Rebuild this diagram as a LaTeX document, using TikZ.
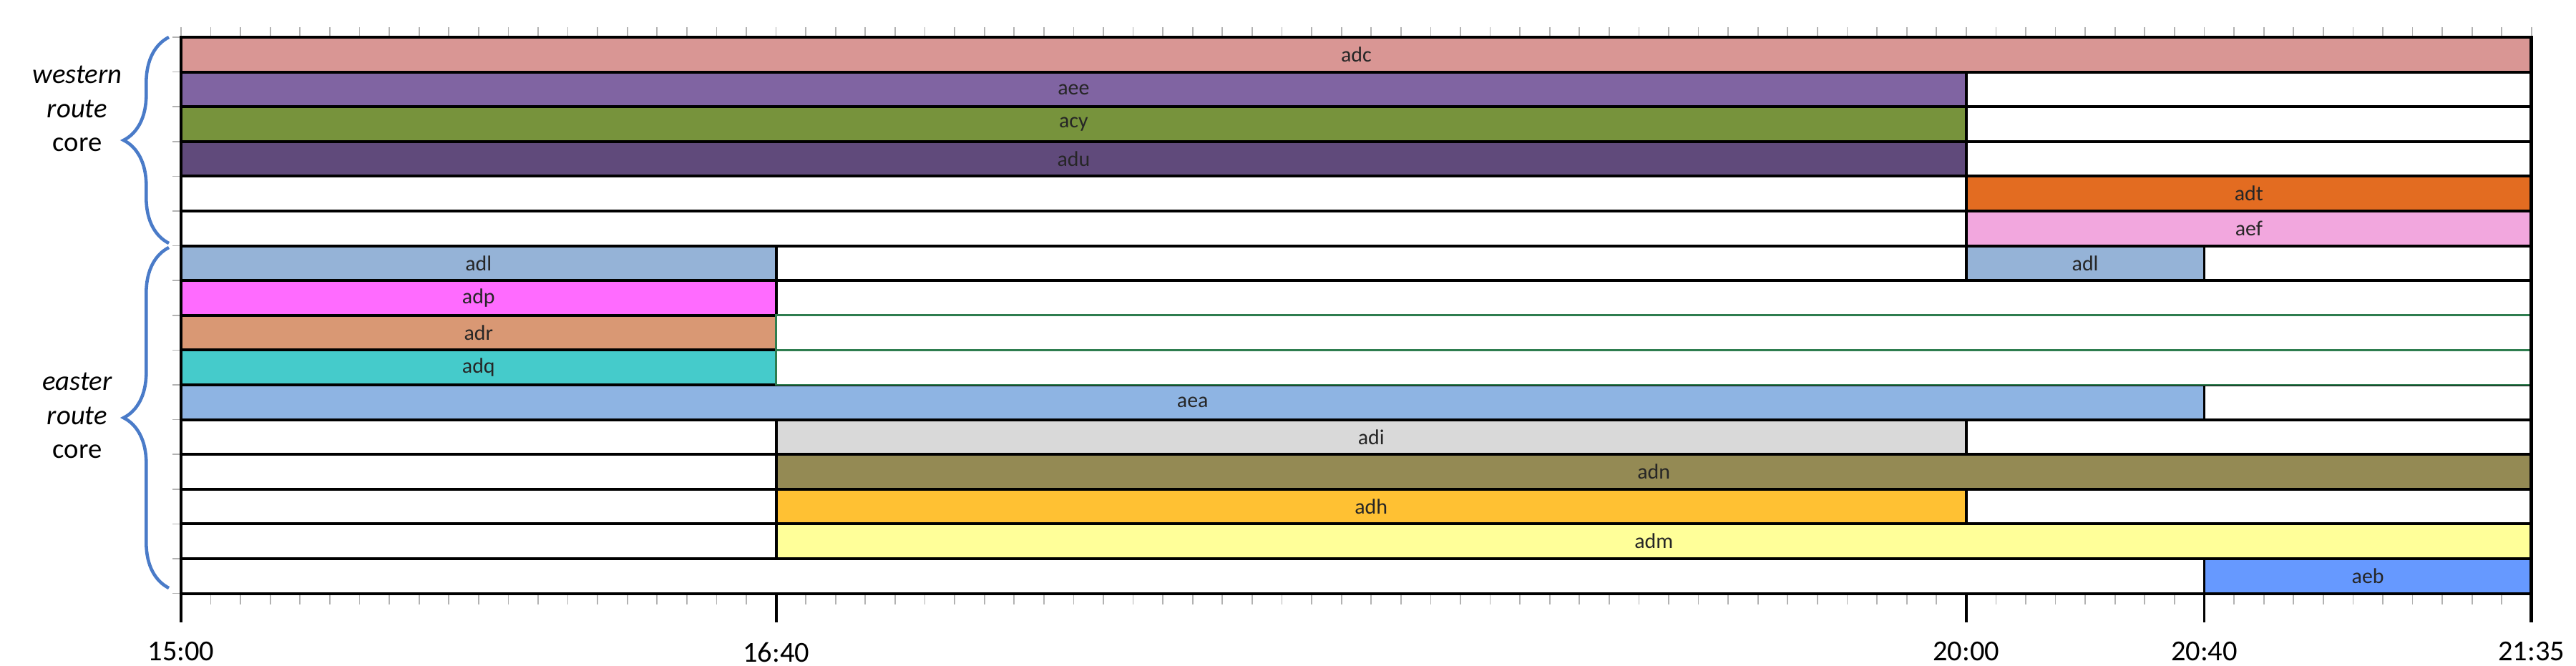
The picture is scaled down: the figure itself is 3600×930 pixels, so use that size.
\documentclass[tikz,border=0pt]{standalone}
\usepackage{fontspec}
\setmainfont{Carlito}
\usetikzlibrary{decorations.pathreplacing}

\definecolor{cadc}{HTML}{D99694}
\definecolor{caee}{HTML}{8064A2}
\definecolor{cacy}{HTML}{77933C}
\definecolor{cadu}{HTML}{604A7B}
\definecolor{cadt}{HTML}{E36C21}
\definecolor{caef}{HTML}{F2A7DE}
\definecolor{cadl}{HTML}{95B3D7}
\definecolor{cadp}{HTML}{FF6BFF}
\definecolor{cadr}{HTML}{D99874}
\definecolor{cadq}{HTML}{45CBCB}
\definecolor{caea}{HTML}{8EB4E3}
\definecolor{cadi}{HTML}{D9D9D9}
\definecolor{cadn}{HTML}{948A54}
\definecolor{cadh}{HTML}{FFC133}
\definecolor{cadm}{HTML}{FFFF99}
\definecolor{caeb}{HTML}{6699FF}
\definecolor{gbord}{HTML}{2E7D4F}
\definecolor{bracec}{HTML}{4A7BC8}

\tikzset{
  bar/.style={draw=black, line width=1.1pt},
  freebar/.style={draw=black, line width=1.1pt, fill=white},
  greenbar/.style={draw=gbord, line width=0.8pt, fill=white},
  lbl/.style={font=\fontsize{8.5}{10}\selectfont, text=black!85},
  side/.style={font=\fontsize{11}{13.5}\selectfont, align=center},
  ax/.style={font=\fontsize{11.5}{13}\selectfont},
  brc/.style={draw=bracec, line width=1.3pt, decorate, decoration={brace, amplitude=18pt, aspect=0.5}}
}

\begin{document}
\begin{tikzpicture}[x=0.01cm, y=-0.01cm]
\useasboundingbox (0,0) rectangle (3600,930);
\def\tx#1{253+8.316*#1}
\def\rh{48.6}

% minor ticks
\foreach \m in {0,5,...,395} {
  \draw[gray!60, line width=0.5pt] ({\tx{\m}},38) -- ({\tx{\m}},52);
  \draw[gray!60, line width=0.5pt] ({\tx{\m}},829) -- ({\tx{\m}},845);
}
\foreach \i in {0,...,16}
  \draw[gray!60, line width=0.5pt] (241,{52+\rh*\i}) -- (253,{52+\rh*\i});

% bars: row/start/end/colour/label
\foreach \r/\s/\e/\c/\t in {
  0/0/395/cadc/adc,
  1/0/300/caee/aee, 1/300/395/white/,
  2/0/300/cacy/acy, 2/300/395/white/,
  3/0/300/cadu/adu, 3/300/395/white/,
  4/0/300/white/, 4/300/395/cadt/adt,
  5/0/300/white/, 5/300/395/caef/aef,
  6/0/100/cadl/adl, 6/100/300/white/, 6/300/340/cadl/adl, 6/340/395/white/,
  7/0/100/cadp/adp, 7/100/395/white/,
  8/0/100/cadr/adr,
  9/0/100/cadq/adq,
  10/0/340/caea/aea, 10/340/395/white/,
  11/0/100/white/, 11/100/300/cadi/adi, 11/300/395/white/,
  12/0/100/white/, 12/100/395/cadn/adn,
  13/0/100/white/, 13/100/300/cadh/adh, 13/300/395/white/,
  14/0/100/white/, 14/100/395/cadm/adm,
  15/0/340/white/, 15/340/395/caeb/aeb}
  \path[bar, fill=\c] ({\tx{\s}},{52+\rh*\r}) rectangle
    node[lbl] (b\r-\s) {\t} ({\tx{\e}},{52+\rh*(\r+1)});
\foreach \r in {8,9}
  \path[greenbar] ({\tx{100}},{52+\rh*\r}) rectangle ({\tx{395}},{52+\rh*(\r+1)});

% axis
\foreach \m/\l in {0/15:00,100/16:40,300/20:00,340/20:40,395/21:35}
  \draw[line width=1.1pt] ({\tx{\m}},829) -- ({\tx{\m}},870)
    node[ax, below=4pt] (t\m) {\l};
\draw[line width=1.4pt] ({\tx{0}},52) -- ({\tx{0}},870);
\draw[line width=1.4pt] ({\tx{395}},52) -- ({\tx{395}},870);

% groups
\draw[brc] (236,340) -- (236,52);
\draw[brc] (236,822) -- (236,346);
\node[side] (west) at (108,152) {\textit{western}\\\textit{route}\\core};
\node[side] (east) at (108,581) {\textit{easter}\\\textit{route}\\core};
\end{tikzpicture}
\end{document}
